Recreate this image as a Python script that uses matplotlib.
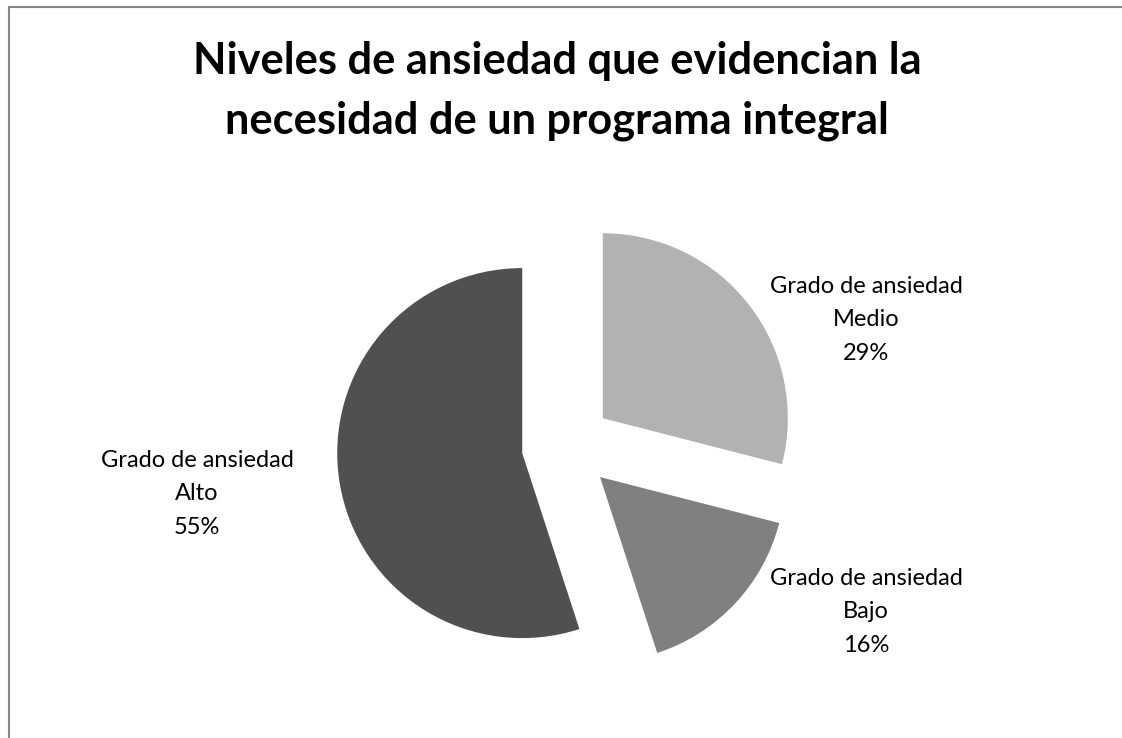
import matplotlib
matplotlib.use("Agg")
import matplotlib.pyplot as plt
from matplotlib.patches import Rectangle

categories = ["Grado de ansiedad\nMedio", "Grado de ansiedad\nBajo", "Grado de ansiedad\nAlto"]
values = [29, 16, 55]
colors = ["#b2b2b2", "#808080", "#505050"]
title = "Niveles de ansiedad que evidencian la\nnecesidad de un programa integral"

plt.rcParams['font.family'] = ['Lato', 'DejaVu Sans']

W, H = 1122, 738
fig = plt.figure(figsize=(W / 100, H / 100), dpi=100)
ax = fig.add_axes([0, 0, 1, 1])

R = 185.0  # pixels per unit radius
cx, cy = 567.0, 446.0

wedges, _ = ax.pie(values, colors=colors, startangle=90, counterclock=False,
                   explode=[0.245] * 3, radius=1.0, center=(0, 0), frame=True,
                   wedgeprops=dict(linewidth=0))
ax.set_xlim(-cx / R, (W - cx) / R)
ax.set_ylim(-(H - cy) / R, cy / R)
ax.set_aspect('equal')
ax.axis('off')

label_pos = [(866, 320), (866, 612), (197, 494)]
for cat, v, (px, py) in zip(categories, values, label_pos):
    ax.text((px - cx) / R, (cy - py) / R, f"{cat}\n{v}%", ha='center', va='center',
            fontsize=17, linespacing=1.73, color='black')

fig.text(557 / W, 1 - 91 / H, title, ha='center', va='center', fontsize=31.2,
         fontweight='bold', linespacing=1.61)

fig.add_artist(Rectangle((8.5 / W, -0.1), 1.2, 1 - 6.5 / H + 0.1, transform=fig.transFigure,
                         fill=False, edgecolor='#888888', linewidth=1.5))

fig.savefig("out.png", dpi=100, facecolor='white')
